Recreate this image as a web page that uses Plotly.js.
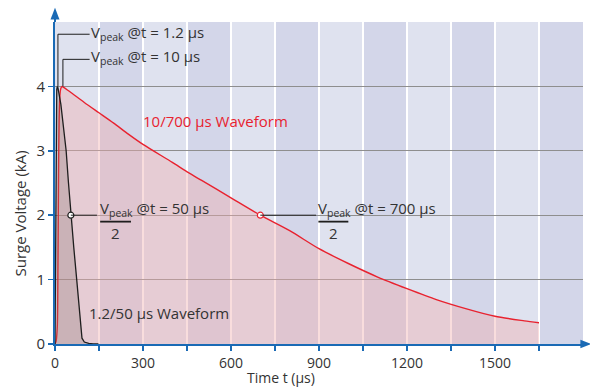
<!DOCTYPE html>
<html>
<head>
<meta charset="utf-8">
<script src="https://cdn.plot.ly/plotly-3.0.1.min.js"></script>
<style>html,body{margin:0;padding:0;background:#fff;}#chart{width:590px;height:387px;}</style>
</head>
<body>
<div id="chart"></div>
<script>
// ---- data ----
const redT = [0, 4, 8, 10, 12, 14, 17, 20, 24, 28, 50, 100, 150, 200, 250, 300, 400, 455, 500, 600, 700, 800, 900, 1000, 1100, 1200, 1300, 1400, 1500, 1600, 1650];
const redV = [0, 0.05, 0.3, 1.2, 2.6, 3.5, 3.88, 3.97, 4.0, 3.99, 3.92, 3.75, 3.59, 3.43, 3.26, 3.1, 2.82, 2.66, 2.54, 2.27, 2.0, 1.76, 1.48, 1.25, 1.04, 0.86, 0.69, 0.55, 0.43, 0.36, 0.33];
const blackT = [0, 2, 4, 6, 8, 10, 20, 30, 38, 46, 54, 64, 74, 82, 88, 92, 100, 115, 130, 148];
const blackV = [0, 1.5, 3.5, 3.95, 4.0, 3.98, 3.72, 3.35, 3.0, 2.5, 2.0, 1.5, 1.0, 0.55, 0.2, 0.09, 0.03, 0.01, 0.003, 0];
const halfT = [54, 700];
const halfV = [2, 2];
const xTickVals = [0, 150, 300, 450, 600, 750, 900, 1050, 1200, 1350, 1500, 1650];
const xTickText = ['0', '', '300', '', '600', '', '900', '', '1200', '', '1500', ''];
const yTickVals = [0, 1, 2, 3, 4];
const bandStarts = [0, 150, 300, 450, 600, 750, 900, 1050, 1200, 1350, 1500, 1650];
const bandWidth = 150;

const FONT = '"Open Sans", "Noto Sans", sans-serif';
const TXT = '#333333';
const BLUE = '#1a6ab5';
const RED = '#e8222f';

const traces = [
  {x: redT, y: redV, type: 'scatter', mode: 'lines', fill: 'tozeroy',
   fillcolor: 'rgba(240,175,175,0.42)', line: {color: RED, width: 1.4, shape: 'spline', smoothing: 0.7}, hoverinfo: 'skip'},
  {x: blackT, y: blackV, type: 'scatter', mode: 'lines', fill: 'tozeroy',
   fillcolor: 'rgba(120,100,95,0.25)', line: {color: '#1e1e1e', width: 1.3}, hoverinfo: 'skip'},
  {x: [halfT[0]], y: [halfV[0]], type: 'scatter', mode: 'markers',
   marker: {size: 6, color: '#ffffff', line: {color: '#1e1e1e', width: 1.2}}, hoverinfo: 'skip'},
  {x: [halfT[1]], y: [halfV[1]], type: 'scatter', mode: 'markers',
   marker: {size: 6, color: '#ffffff', line: {color: RED, width: 1.2}}, hoverinfo: 'skip'}
];

const shapes = [];
bandStarts.forEach((s, i) => {
  shapes.push({type: 'rect', layer: 'below', xref: 'x', yref: 'paper',
    x0: s, x1: s + bandWidth, y0: 0, y1: 1, line: {width: 0},
    fillcolor: i % 2 === 0 ? '#dfe2ef' : '#d3d6e9'});
});
// leader lines
const LC = '#1e1e1e';
shapes.push({type: 'line', xref: 'x', yref: 'y', x0: 10, x1: 10, y0: 4.0, y1: 4.81, line: {color: LC, width: 1}});
shapes.push({type: 'line', xref: 'x', yref: 'y', x0: 10, x1: 118, y0: 4.81, y1: 4.81, line: {color: LC, width: 1}});
shapes.push({type: 'line', xref: 'x', yref: 'y', x0: 27, x1: 27, y0: 4.0, y1: 4.42, line: {color: LC, width: 1}});
shapes.push({type: 'line', xref: 'x', yref: 'y', x0: 27, x1: 118, y0: 4.42, y1: 4.42, line: {color: LC, width: 1}});
shapes.push({type: 'line', xref: 'x', yref: 'y', x0: 54, x1: 143, y0: 2, y1: 2, line: {color: LC, width: 1}});
shapes.push({type: 'line', xref: 'x', yref: 'y', x0: 700, x1: 890, y0: 2, y1: 2, line: {color: LC, width: 1}});
// fraction bars
shapes.push({type: 'line', xref: 'x', yref: 'y', x0: 154, x1: 259, y0: 1.9, y1: 1.9, line: {color: LC, width: 1.8}});
shapes.push({type: 'line', xref: 'x', yref: 'y', x0: 898, x1: 1000, y0: 1.9, y1: 1.9, line: {color: LC, width: 1.8}});
// axis arrows
shapes.push({type: 'line', xref: 'paper', yref: 'paper', x0: 0, x1: 0, y0: 1, y1: 1.012, line: {color: BLUE, width: 2}});
shapes.push({type: 'path', xref: 'paper', yref: 'paper', path: 'M -0.0085 1.008 L 0.0085 1.008 L 0 1.044 Z', fillcolor: BLUE, line: {width: 0}});
shapes.push({type: 'path', xref: 'paper', yref: 'paper', path: 'M 0.995 -0.0135 L 0.995 0.0135 L 1.0157 0 Z', fillcolor: BLUE, line: {width: 0}});

const annFont = {family: FONT, size: 15, color: TXT};
const annotations = [
  {xref: 'x', yref: 'y', x: 117, y: 4.83, xanchor: 'left', yanchor: 'middle', showarrow: false,
   text: 'V<sub>peak</sub> @t = 1.2 µs', font: annFont},
  {xref: 'x', yref: 'y', x: 117, y: 4.45, xanchor: 'left', yanchor: 'middle', showarrow: false,
   text: 'V<sub>peak</sub> @t = 10 µs', font: annFont},
  {xref: 'x', yref: 'y', x: 292, y: 3.46, xanchor: 'left', yanchor: 'middle', showarrow: false,
   text: '10/700 µs Waveform', font: {family: FONT, size: 15, color: RED}},
  {xref: 'x', yref: 'y', x: 108, y: 0.48, xanchor: 'left', yanchor: 'middle', showarrow: false,
   text: '1.2/50 µs Waveform', font: annFont},
  {xref: 'x', yref: 'y', x: 146, y: 2.09, xanchor: 'left', yanchor: 'middle', showarrow: false,
   text: 'V<sub>peak</sub> @t = 50 µs', font: annFont},
  {xref: 'x', yref: 'y', x: 205, y: 1.72, xanchor: 'center', yanchor: 'middle', showarrow: false,
   text: '2', font: annFont},
  {xref: 'x', yref: 'y', x: 890, y: 2.09, xanchor: 'left', yanchor: 'middle', showarrow: false,
   text: 'V<sub>peak</sub> @t = 700 µs', font: annFont},
  {xref: 'x', yref: 'y', x: 948, y: 1.72, xanchor: 'center', yanchor: 'middle', showarrow: false,
   text: '2', font: annFont},
  {xref: 'paper', yref: 'paper', x: 0.428, y: -0.103, xanchor: 'center', yanchor: 'middle', showarrow: false,
   text: 'Time t (µs)', font: {family: FONT, size: 14, color: TXT}},
  {xref: 'paper', yref: 'paper', x: -0.067, y: 0.404, xanchor: 'center', yanchor: 'middle', showarrow: false,
   textangle: -90, text: 'Surge Voltage (kA)', font: annFont}
];

const layout = {
  width: 590, height: 387,
  margin: {l: 55, r: 7, t: 22, b: 43},
  paper_bgcolor: '#ffffff', plot_bgcolor: '#dfe2ef',
  showlegend: false,
  font: {family: FONT, size: 15, color: TXT},
  xaxis: {range: [0, 1800], tickmode: 'array', tickvals: xTickVals, ticktext: xTickText,
    showgrid: true, gridcolor: '#ffffff', gridwidth: 1.5, zeroline: false,
    showline: true, linecolor: BLUE, linewidth: 2, ticks: 'outside', ticklen: 5, tickcolor: BLUE, tickwidth: 1.5,
    tickfont: {family: FONT, size: 14, color: TXT}, fixedrange: true},
  yaxis: {range: [0, 5], tickmode: 'array', tickvals: yTickVals,
    showgrid: true, gridcolor: '#8e8e8e', gridwidth: 1, zeroline: false,
    showline: true, linecolor: BLUE, linewidth: 2, ticks: 'outside', ticklen: 5, tickcolor: BLUE, tickwidth: 1.5,
    tickfont: {family: FONT, size: 15, color: TXT}, fixedrange: true},
  shapes: shapes,
  annotations: annotations
};

Plotly.newPlot('chart', traces, layout, {displayModeBar: false, staticPlot: true});
</script>
</body>
</html>
